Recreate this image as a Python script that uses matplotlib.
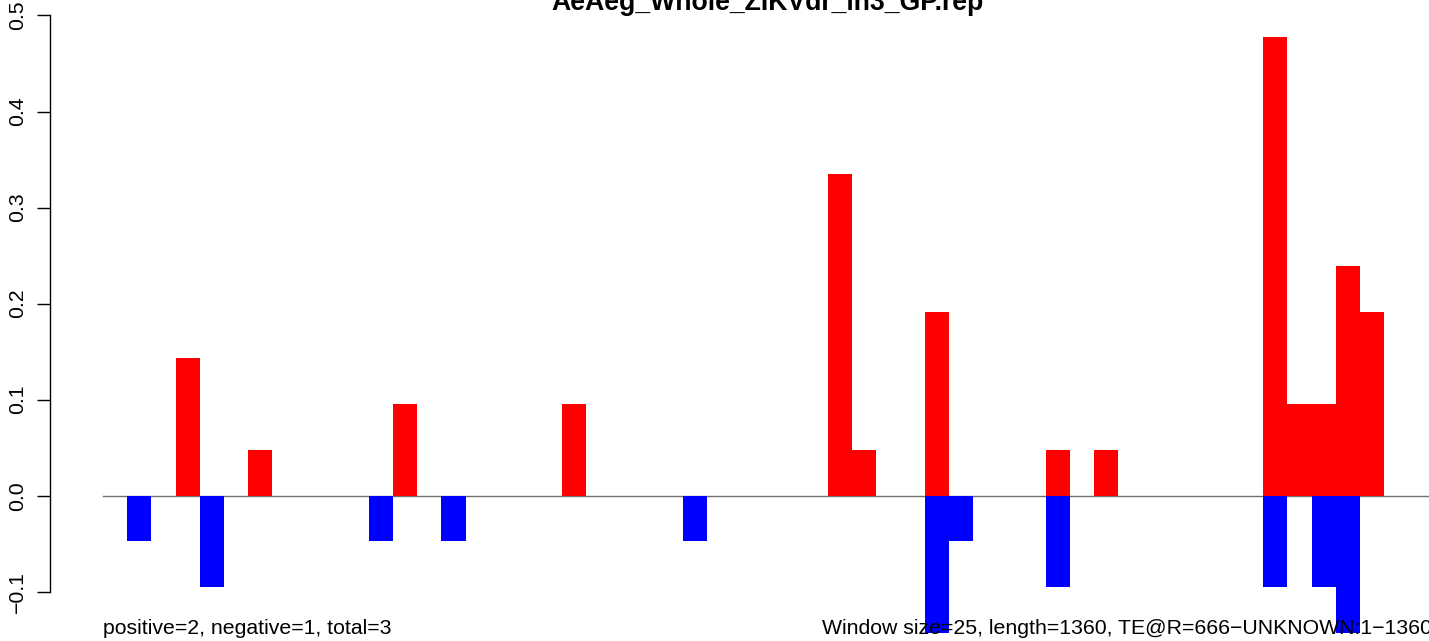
import numpy as np
import matplotlib
matplotlib.use("Agg")
import matplotlib.pyplot as plt

plt.rcParams['font.family'] = ['Liberation Sans', 'DejaVu Sans']

title = "AeAeg_Whole_ZIKVdr_in3_GP.rep"
n_windows = 55  # length 1360, window size 25

# positive windows (red) and negative windows (blue), by window index
pos_idx = [3, 6, 12, 19, 30, 31, 34, 39, 41, 48, 49, 50, 51, 52]
pos_val = [0.143, 0.0476, 0.0952, 0.0952, 0.335, 0.0476, 0.191, 0.0476, 0.0476,
           0.478, 0.0952, 0.0952, 0.239, 0.191]
neg_idx = [1, 4, 11, 14, 24, 34, 35, 39, 48, 50, 51]
neg_val = [-0.0476, -0.0952, -0.0476, -0.0476, -0.0476, -0.143, -0.0476, -0.0952,
           -0.0952, -0.0952, -0.143]

yticks = [-0.1, 0.0, 0.1, 0.2, 0.3, 0.4, 0.5]
left_note = "positive=2, negative=1, total=3"
right_note = "Window size=25, length=1360, TE@R=666\u2212UNKNOWN:1\u22121360"

W, H = 1429, 641
fig = plt.figure(figsize=(W / 100, H / 100), dpi=100)

# R-style plot region: xlim/ylim padded by 4%, partly outside the saved image
xlim = (-0.04 * n_windows, 1.04 * n_windows)
ylim = (-0.124, 0.524)
px_x0, px_unit = 103.0, 24.17
px_y0, px_yunit = 495.7, 960.5
left = px_x0 + xlim[0] * px_unit
right = px_x0 + xlim[1] * px_unit
top = px_y0 - ylim[1] * px_yunit
bottom = px_y0 - ylim[0] * px_yunit
ax = fig.add_axes([left / W, (H - bottom) / H, (right - left) / W, (bottom - top) / H])
ax.set_xlim(*xlim)
ax.set_ylim(*ylim)

ax.bar(np.array(pos_idx), pos_val, width=1.0, align='edge', color='#ff0000',
       linewidth=0, clip_on=False)
ax.bar(np.array(neg_idx), neg_val, width=1.0, align='edge', color='#0000ff',
       linewidth=0, clip_on=False)
ax.plot([0, n_windows], [0, 0], color='#707070', linewidth=1.0, clip_on=False, zorder=0.5)

for s in ['top', 'right', 'bottom']:
    ax.spines[s].set_visible(False)
ax.spines['left'].set_bounds(yticks[0], yticks[-1])
ax.spines['left'].set_linewidth(1.0)
ax.set_xticks([])
ax.set_yticks(yticks)
ax.set_yticklabels([f"{v:.1f}".replace("-", "\u2212") for v in yticks],
                   rotation=90, va='center')
ax.tick_params(axis='y', length=9.5, width=1.0, pad=7, labelsize=15.3)

ax.text(sum(xlim) / 2, 0.5 + (px_y0 - 0.5 * px_yunit - 10) / px_yunit, title,
        ha='center', va='baseline', fontsize=19.2, fontweight='bold', clip_on=False)
note_y = (px_y0 - 634) / px_yunit
ax.text(0, note_y, left_note, ha='left', va='baseline', fontsize=15.3, clip_on=False)
ax.text(n_windows, note_y, right_note, ha='right', va='baseline', fontsize=15.3,
        clip_on=False)

fig.savefig("out.png", dpi=100)
